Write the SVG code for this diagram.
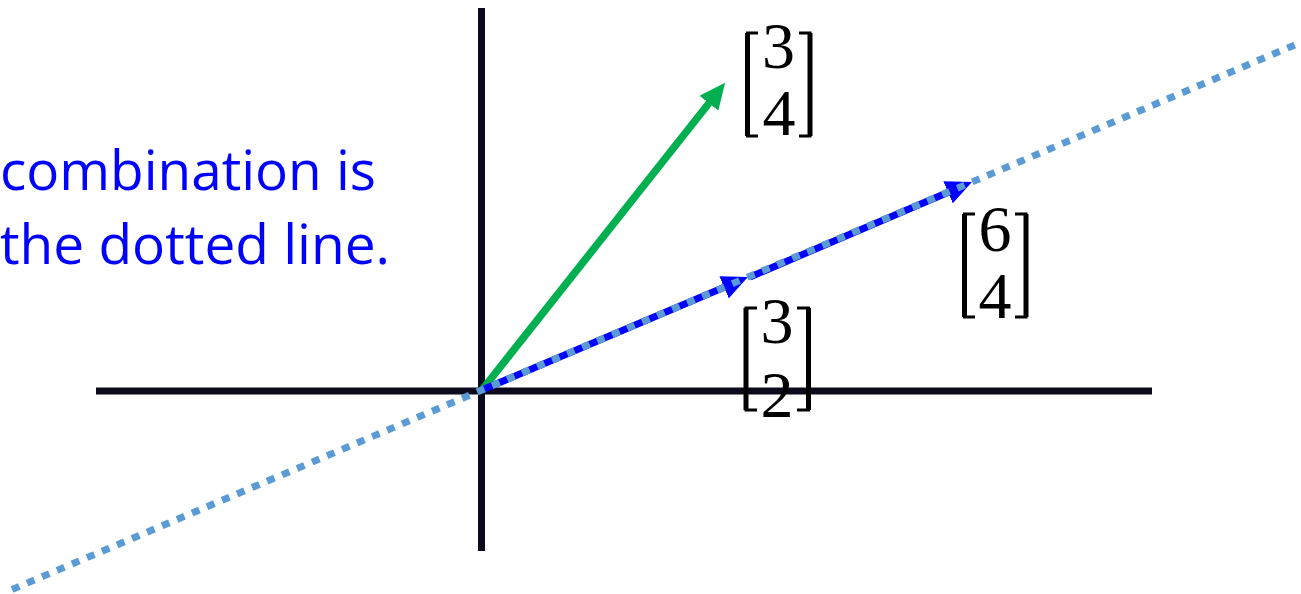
<svg xmlns="http://www.w3.org/2000/svg" width="1301" height="594" viewBox="0 0 1301 594">
<style>
.axis{stroke:#0a0a1c;stroke-width:7;fill:none}
.blue{stroke:#0000ff;stroke-width:7;fill:none}
.green{stroke:#00b050;stroke-width:7.5;fill:none}
.dots{stroke:#5b9bd5;stroke-width:7;fill:none;stroke-dasharray:8 8.3}
.brk{stroke:#000;fill:none;stroke-width:3}
.brkv{stroke:#000;stroke-width:5}
.num{font-family:"Liberation Serif","DejaVu Serif",serif;font-size:66px;fill:#000;text-anchor:middle}
.note{font-family:"Open Sans","Liberation Sans",sans-serif;font-size:55px;fill:#0000ff}
</style>
<defs>
<marker id="ahB" markerUnits="userSpaceOnUse" markerWidth="26" markerHeight="24" viewBox="0 0 26 24" refX="13" refY="12" orient="auto"><path d="M0,0 L26,12 L0,24 z" fill="#0000ff"/></marker>
<marker id="ahG" markerUnits="userSpaceOnUse" markerWidth="26" markerHeight="24" viewBox="0 0 26 24" refX="13" refY="12" orient="auto"><path d="M0,0 L26,12 L0,24 z" fill="#00b050"/></marker>
</defs>
<g id="axes">
<line class="axis" x1="96" y1="391" x2="1152" y2="391"/>
<line class="axis" x1="481.5" y1="8" x2="481.5" y2="551"/>
</g>
<g id="connectors">
<line class="green" x1="482" y1="390" x2="717" y2="93" marker-end="url(#ahG)"/>
<line class="blue" x1="482" y1="390" x2="736" y2="282.2" marker-end="url(#ahB)"/>
<line class="blue" x1="750" y1="277" x2="960" y2="187.2" marker-end="url(#ahB)"/>
<line class="dots" x1="12" y1="589.5" x2="1301" y2="42.3"/>
</g>
<g id="label-text">
<text class="note" x="0" y="190" textLength="376" lengthAdjust="spacingAndGlyphs">combination is</text>
<text class="note" x="0" y="264" textLength="390" lengthAdjust="spacingAndGlyphs">the dotted line.</text>
</g>
<g id="vec-3-4">
<path class="brk" d="M758,33 H747.5 V136 H758"/>
<line class="brkv" x1="747.5" y1="33" x2="747.5" y2="136"/>
<path class="brk" d="M799,33 H810 V136 H799"/>
<line class="brkv" x1="810" y1="33" x2="810" y2="136"/>
<text class="num" x="778.5" y="68">3</text>
<text class="num" x="779" y="135">4</text>
</g>
<g id="vec-3-2">
<path class="brk" d="M757,308 H746 V410 H757"/>
<line class="brkv" x1="746" y1="308" x2="746" y2="410"/>
<path class="brk" d="M797,308 H808.5 V410 H797"/>
<line class="brkv" x1="808.5" y1="308" x2="808.5" y2="410"/>
<text class="num" x="777" y="343">3</text>
<text class="num" x="777" y="417">2</text>
</g>
<g id="vec-6-4">
<path class="brk" d="M975,214 H964.5 V317 H975"/>
<line class="brkv" x1="964.5" y1="214" x2="964.5" y2="317"/>
<path class="brk" d="M1015,214 H1026 V317 H1015"/>
<line class="brkv" x1="1026" y1="214" x2="1026" y2="317"/>
<text class="num" x="995" y="251">6</text>
<text class="num" x="995" y="318">4</text>
</g>
</svg>
